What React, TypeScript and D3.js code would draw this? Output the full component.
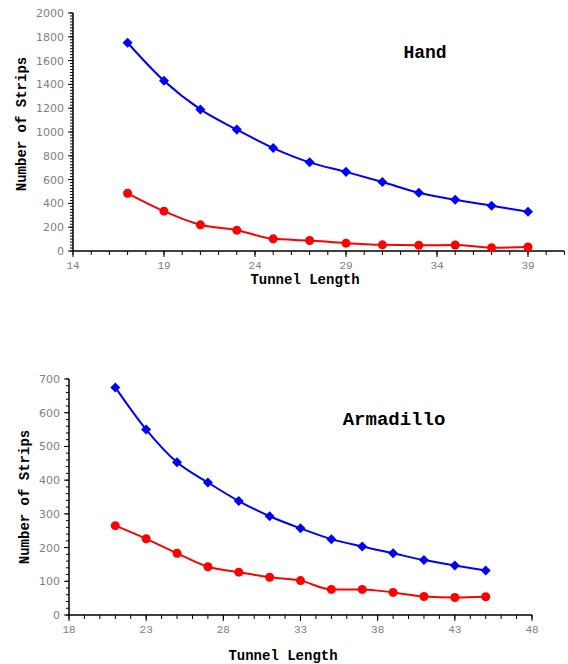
import React from "react";
import * as d3 from "d3";

// tunnel lengths and strip counts
const handX = [17, 19, 21, 23, 25, 27, 29, 31, 33, 35, 37, 39];
const handBlue = [1750, 1430, 1190, 1020, 865, 745, 665, 580, 490, 430, 380, 330];
const handRed = [485, 335, 220, 175, 102, 88, 66, 52, 48, 50, 28, 34];
const handXTicks = [14, 19, 24, 29, 34, 39];
const handYTicks = [0, 200, 400, 600, 800, 1000, 1200, 1400, 1600, 1800, 2000];

const armX = [21, 23, 25, 27, 29, 31, 33, 35, 37, 39, 41, 43, 45];
const armBlue = [675, 550, 453, 393, 338, 293, 257, 225, 203, 183, 163, 147, 132];
const armRed = [265, 226, 183, 143, 127, 112, 102, 76, 76, 67, 55, 52, 54];
const armXTicks = [18, 23, 28, 33, 38, 43, 48];
const armYTicks = [0, 100, 200, 300, 400, 500, 600, 700];

const grey = "#808080";

type PanelProps = {
  title: string;
  xs: number[];
  blue: number[];
  red: number[];
  xDomain: [number, number];
  xRange: [number, number];
  yDomain: [number, number];
  yRange: [number, number];
  xTicks: number[];
  yTicks: number[];
  yMinorStep: number;
  xLabelPos: [number, number];
  yLabelPos: [number, number];
  titlePos: [number, number];
  titleSize: number;
};

const Panel = (p: PanelProps) => {
  const x = d3.scaleLinear().domain(p.xDomain).range(p.xRange);
  const y = d3.scaleLinear().domain(p.yDomain).range(p.yRange);
  const x0 = p.xRange[0];
  const y0 = p.yRange[0];

  const xMinor = d3.range(p.xDomain[0], p.xDomain[1] + 0.001, 1);
  const yMinor = d3.range(p.yDomain[0], p.yDomain[1] + 0.001, p.yMinorStep);

  const line = d3
    .line<number>()
    .x((_, i) => x(p.xs[i]))
    .y((d) => y(d))
    .curve(d3.curveMonotoneX);

  const diamond = d3.symbol().type(d3.symbolDiamond2).size(64)();

  return (
    <g>
      {/* axes */}
      <line x1={x0} x2={p.xRange[1]} y1={y0} y2={y0} stroke="#000" strokeWidth={1.5} />
      <line x1={x0} x2={x0} y1={y0} y2={p.yRange[1]} stroke="#000" strokeWidth={1.5} />
      {xMinor.map((t) => (
        <line key={"xm" + t} x1={x(t)} x2={x(t)} y1={y0} y2={y0 + 4} stroke="#000" />
      ))}
      {p.xTicks.map((t) => (
        <g key={"xt" + t}>
          <line x1={x(t)} x2={x(t)} y1={y0} y2={y0 + 6} stroke="#000" />
          <text
            x={x(t)}
            y={y0 + 18}
            textAnchor="middle"
            fontFamily="Liberation Mono, monospace"
            fontSize={11}
            fill={grey}
          >
            {t}
          </text>
        </g>
      ))}
      {yMinor.map((t) => (
        <line key={"ym" + t} x1={x0 - 3} x2={x0} y1={y(t)} y2={y(t)} stroke="#000" />
      ))}
      {p.yTicks.map((t) => (
        <g key={"yt" + t}>
          <line x1={x0 - 5} x2={x0} y1={y(t)} y2={y(t)} stroke="#000" />
          <text
            x={x0 - 9}
            y={y(t) + 4}
            textAnchor="end"
            fontFamily="DejaVu Sans, sans-serif"
            fontSize={11}
            fill={grey}
          >
            {t}
          </text>
        </g>
      ))}

      {/* series */}
      <path d={line(p.blue) || ""} fill="none" stroke="#0000ff" strokeWidth={2} />
      {p.blue.map((v, i) => (
        <path
          key={"b" + i}
          d={diamond || ""}
          transform={`translate(${x(p.xs[i])},${y(v)})`}
          fill="#0000ff"
        />
      ))}
      <path d={line(p.red) || ""} fill="none" stroke="#ff0000" strokeWidth={2} />
      {p.red.map((v, i) => (
        <circle key={"r" + i} cx={x(p.xs[i])} cy={y(v)} r={4.5} fill="#ff0000" />
      ))}

      {/* labels */}
      <text
        x={p.xLabelPos[0]}
        y={p.xLabelPos[1]}
        textAnchor="middle"
        fontFamily="Liberation Mono, monospace"
        fontWeight="bold"
        fontSize={14}
      >
        Tunnel Length
      </text>
      <text
        transform={`translate(${p.yLabelPos[0]},${p.yLabelPos[1]}) rotate(-90)`}
        textAnchor="middle"
        fontFamily="Liberation Mono, monospace"
        fontWeight="bold"
        fontSize={14}
      >
        Number of Strips
      </text>
      <text
        x={p.titlePos[0]}
        y={p.titlePos[1]}
        textAnchor="middle"
        fontFamily="Liberation Mono, monospace"
        fontWeight="bold"
        fontSize={p.titleSize}
      >
        {p.title}
      </text>
    </g>
  );
};

const App = () => {
  return (
    <svg
      width={568}
      height={664}
      style={{ position: "absolute", left: 0, top: 0, background: "#fff" }}
    >
      <Panel
        title="Hand"
        xs={handX}
        blue={handBlue}
        red={handRed}
        xDomain={[14, 41]}
        xRange={[73, 564.4]}
        yDomain={[0, 2000]}
        yRange={[251, 13]}
        xTicks={handXTicks}
        yTicks={handYTicks}
        yMinorStep={25}
        xLabelPos={[305, 284]}
        yLabelPos={[26, 124]}
        titlePos={[425, 58]}
        titleSize={18}
      />
      <Panel
        title="Armadillo"
        xs={armX}
        blue={armBlue}
        red={armRed}
        xDomain={[18, 48]}
        xRange={[69, 532]}
        yDomain={[0, 700]}
        yRange={[615, 379]}
        xTicks={armXTicks}
        yTicks={armYTicks}
        yMinorStep={20}
        xLabelPos={[283, 660]}
        yLabelPos={[29, 497]}
        titlePos={[394, 425]}
        titleSize={19}
      />
    </svg>
  );
};

export default App;
